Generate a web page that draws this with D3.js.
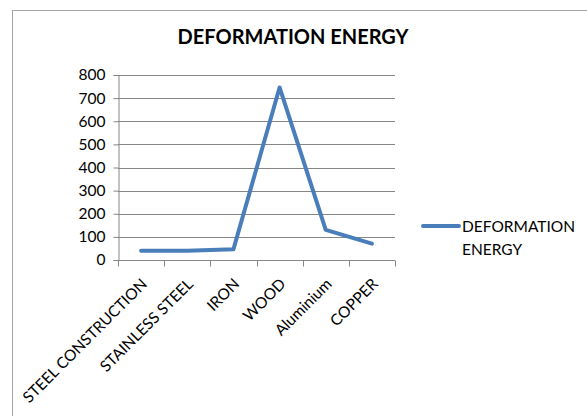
<!DOCTYPE html>
<html><head><meta charset="utf-8">
<script src="https://cdn.jsdelivr.net/npm/d3@7"></script>
<style>body{margin:0;background:#fff;} svg{display:block;}</style>
</head><body>
<script>
const categories = ["STEEL CONSTRUCTION","STAINLESS STEEL","IRON","WOOD","Aluminium","COPPER"];
const values = [40, 40, 46, 746, 130, 71];
const yTicks = [0,100,200,300,400,500,600,700,800];
const seriesName = "DEFORMATION ENERGY";
const chartTitle = "DEFORMATION ENERGY";

(function(){
const W = 587, H = 416;
const svg = d3.select("body").append("svg").attr("width", W).attr("height", H);
const font = "Lato, 'Open Sans', sans-serif";

svg.append("rect").attr("x", 12.5).attr("y", 10.5).attr("width", 600).attr("height", 420)
  .attr("fill", "#fff").attr("stroke", "#a6a6a6").attr("stroke-width", 1);

const pL = 118, pR = 395, pT = 75, pB = 260;
const x = d3.scaleBand().domain(categories).range([pL, pR]).padding(0);
const y = d3.scaleLinear().domain([0, 800]).range([pB, pT]);

svg.append("g").selectAll("line").data(yTicks.filter(d => d > 0)).join("line")
  .attr("x1", pL).attr("x2", pR)
  .attr("y1", d => Math.round(y(d)) + 0.5).attr("y2", d => Math.round(y(d)) + 0.5)
  .attr("stroke", "#868686").attr("stroke-width", 1);

const yAxis = svg.append("g").attr("transform", `translate(${pL + 0.5},0)`)
  .call(d3.axisLeft(y).tickValues(yTicks).tickSize(5).tickPadding(8));
yAxis.select(".domain").attr("stroke", "#868686");
yAxis.selectAll(".tick line").attr("stroke", "#868686");
yAxis.selectAll("text").attr("font-family", font).attr("font-size", 15.5).attr("fill", "#000");

const xAxis = svg.append("g").attr("transform", `translate(0,${pB + 0.5})`)
  .call(d3.axisBottom(x).tickSize(0).tickFormat(""));
xAxis.select(".domain").attr("stroke", "#868686").attr("d", `M${pL},0H${pR}`);
const bounds = categories.map(c => x(c)).concat([pR]);
xAxis.append("g").selectAll("line").data(bounds).join("line")
  .attr("x1", d => Math.round(d) + 0.5).attr("x2", d => Math.round(d) + 0.5)
  .attr("y1", 0).attr("y2", 6).attr("stroke", "#868686");

svg.append("g").selectAll("text").data(categories).join("text")
  .attr("transform", d => `translate(${x(d) + x.bandwidth() / 2 + 7},${pB + 25}) rotate(-45)`)
  .attr("text-anchor", "end")
  .attr("font-family", font).attr("font-size", 15.5).attr("fill", "#000")
  .text(d => d);

const line = d3.line().x((d, i) => x(categories[i]) + x.bandwidth() / 2).y(d => y(d));
svg.append("path").datum(values).attr("d", line)
  .attr("fill", "none").attr("stroke", "#4a7ebb").attr("stroke-width", 4)
  .attr("stroke-linejoin", "round").attr("stroke-linecap", "round");

svg.append("text").attr("x", 293).attr("y", 44).attr("text-anchor", "middle")
  .attr("font-family", font).attr("font-weight", "bold").attr("font-size", 20).attr("fill", "#000")
  .text(chartTitle);

svg.append("line").attr("x1", 423).attr("x2", 459).attr("y1", 226).attr("y2", 226)
  .attr("stroke", "#4a7ebb").attr("stroke-width", 4).attr("stroke-linecap", "round");
const lt = svg.append("text").attr("font-family", font).attr("font-size", 15.5).attr("fill", "#000");
lt.append("tspan").attr("x", 462).attr("y", 232).text("DEFORMATION");
lt.append("tspan").attr("x", 462).attr("y", 255).text("ENERGY");
})();
</script>
</body></html>
